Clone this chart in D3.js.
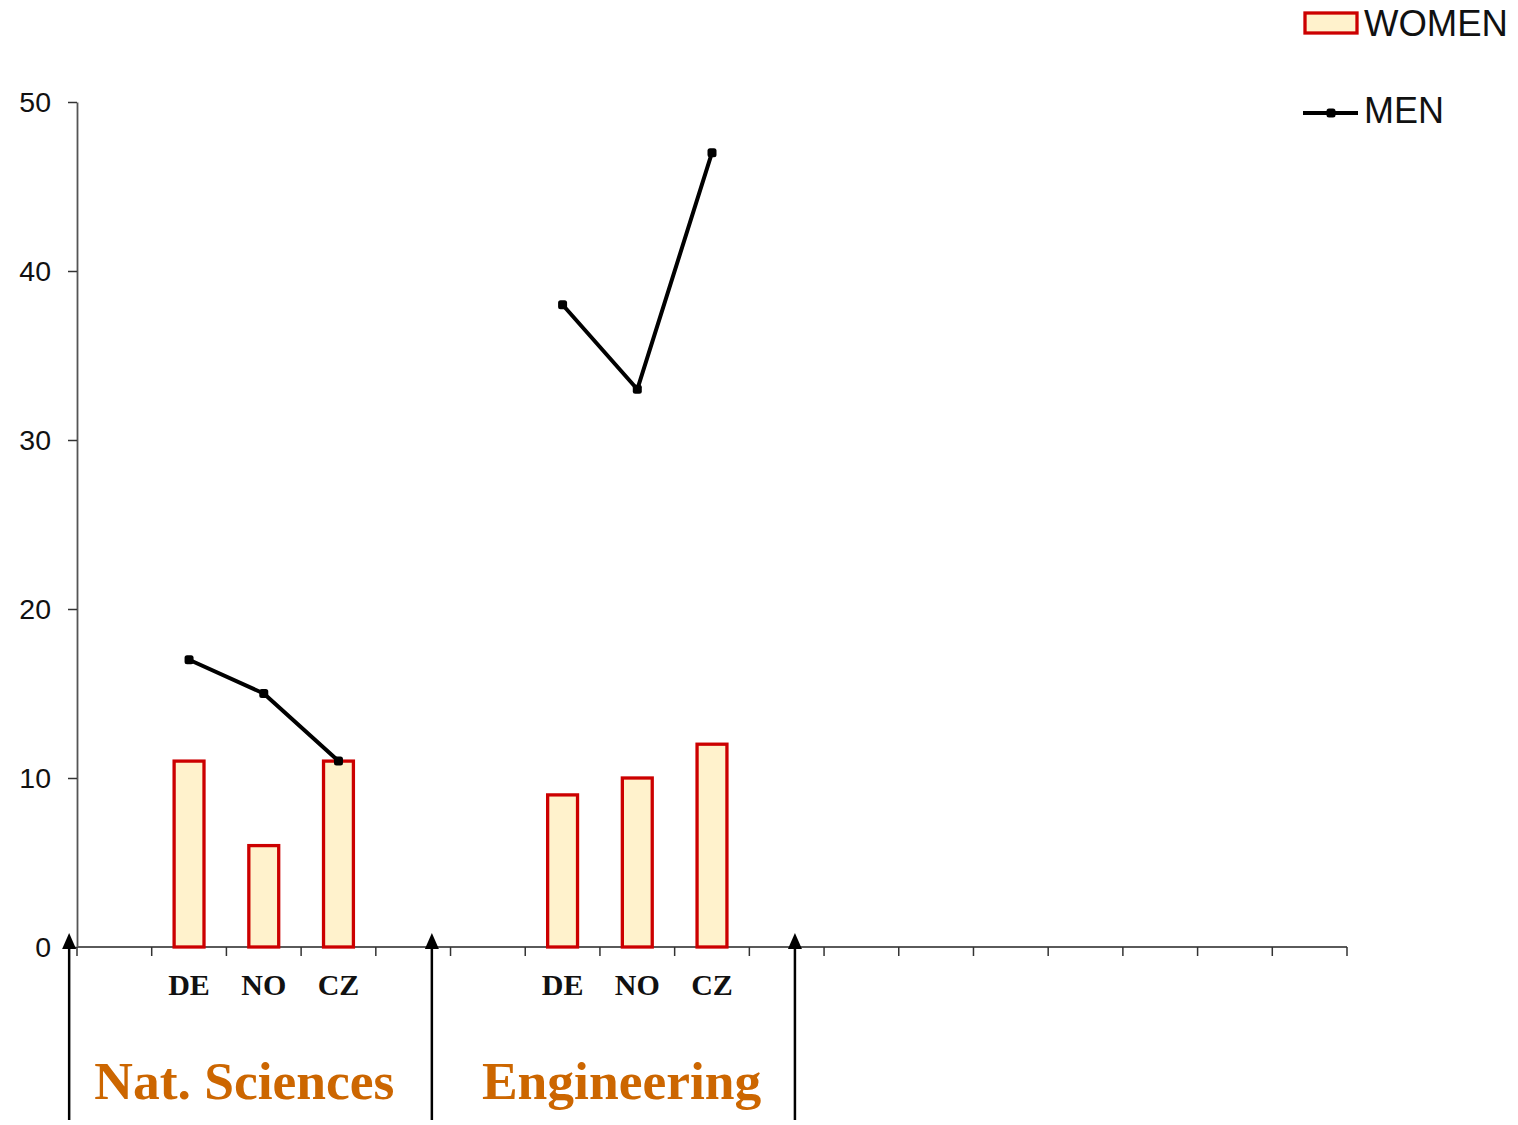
<!DOCTYPE html>
<html>
<head>
<meta charset="utf-8">
<script src="https://cdn.jsdelivr.net/npm/d3@7"></script>
<style>
  html, body { margin: 0; padding: 0; background: #fff; }
  svg { display: block; }
</style>
</head>
<body>
<svg id="chart" width="1518" height="1125"></svg>
<script>
// Share of women and men by field and country (%)
const fields = ["Nat. Sciences", "Engineering"];
const countries = ["DE", "NO", "CZ"];
const women = [[11, 6, 11], [9, 10, 12]];
const men = [[17, 15, 11], [38, 33, 47]];
const yTicks = [0, 10, 20, 30, 40, 50];
const seriesNames = ["WOMEN", "MEN"];

// Category axis: 17 slots, each field group spans 5 slots with countries in slots 1-3
const slotCount = 17;
const groupSize = 5;
const slotOf = (fi, ci) => fi * groupSize + 1 + ci;
// Separator arrows and field label centres, in slot units
const dividerSlots = [-0.105, 4.75, 9.61];
const fieldLabelSlots = [2.24, 7.29];

const svg = d3.select("#chart");
const plotLeft = 77, plotRight = 1347, plotTop = 102, plotBottom = 947;

const x = d3.scaleBand().domain(d3.range(slotCount)).range([plotLeft, plotRight]).padding(0);
const xs = d3.scaleLinear().domain([0, slotCount]).range([plotLeft, plotRight]);
const y = d3.scaleLinear().domain([0, 50]).range([plotBottom, plotTop]);

// Y axis
const yAxis = svg.append("g")
  .attr("transform", `translate(${plotLeft},0)`)
  .call(d3.axisLeft(y).tickValues(yTicks).tickSize(9).tickPadding(17).tickSizeOuter(0));
yAxis.select(".domain").attr("stroke", "#555").attr("stroke-width", 1.8);
yAxis.selectAll(".tick line").attr("stroke", "#333").attr("stroke-width", 1.5);
yAxis.selectAll(".tick text")
  .attr("font-family", "'Liberation Sans', Arial, sans-serif")
  .attr("font-size", 28.5)
  .attr("fill", "#111");

// X axis with tick marks at slot boundaries
const xAxisG = svg.append("g");
xAxisG.append("line")
  .attr("x1", plotLeft).attr("x2", plotRight)
  .attr("y1", plotBottom).attr("y2", plotBottom)
  .attr("stroke", "#5a5a5a").attr("stroke-width", 2.2);
xAxisG.selectAll("line.tk")
  .data(d3.range(slotCount + 1))
  .join("line")
  .attr("class", "tk")
  .attr("x1", d => xs(d)).attr("x2", d => xs(d))
  .attr("y1", plotBottom).attr("y2", plotBottom + 9)
  .attr("stroke", "#333").attr("stroke-width", 1.5);

// Country labels
const cells = [];
fields.forEach((f, fi) => countries.forEach((c, ci) => {
  cells.push({ field: f, country: c, slot: slotOf(fi, ci), women: women[fi][ci], men: men[fi][ci] });
}));

svg.append("g").selectAll("text")
  .data(cells)
  .join("text")
  .attr("x", d => x(d.slot) + x.bandwidth() / 2)
  .attr("y", 995)
  .attr("text-anchor", "middle")
  .attr("font-family", "'Liberation Serif', 'Times New Roman', serif")
  .attr("font-weight", "bold")
  .attr("font-size", 30)
  .attr("fill", "#111")
  .text(d => d.country);

// Women bars
const barW = x.bandwidth() * 0.4;
svg.append("g").selectAll("rect")
  .data(cells)
  .join("rect")
  .attr("x", d => x(d.slot) + (x.bandwidth() - barW) / 2)
  .attr("y", d => y(d.women))
  .attr("width", barW)
  .attr("height", d => y(0) - y(d.women))
  .attr("fill", "#fff2cc")
  .attr("stroke", "#cc0000")
  .attr("stroke-width", 3.3);

// Men lines, one segment per field
const line = d3.line()
  .x(d => x(d.slot) + x.bandwidth() / 2)
  .y(d => y(d.men));
const menG = svg.append("g");
fields.forEach(f => {
  const pts = cells.filter(d => d.field === f);
  menG.append("path")
    .datum(pts)
    .attr("d", line)
    .attr("fill", "none")
    .attr("stroke", "#000")
    .attr("stroke-width", 4)
    .attr("stroke-linejoin", "round");
  menG.append("g").selectAll("rect")
    .data(pts)
    .join("rect")
    .attr("x", d => x(d.slot) + x.bandwidth() / 2 - 4.5)
    .attr("y", d => y(d.men) - 4.5)
    .attr("width", 9).attr("height", 9)
    .attr("rx", 2.5)
    .attr("fill", "#000");
});

// Field separator arrows
const arrowG = svg.append("g");
dividerSlots.forEach(s => {
  const ax = xs(s);
  arrowG.append("line")
    .attr("x1", ax).attr("x2", ax)
    .attr("y1", 1120).attr("y2", 945)
    .attr("stroke", "#000").attr("stroke-width", 2.5);
  arrowG.append("path")
    .attr("d", `M${ax},${933} L${ax - 7},${949} L${ax + 7},${949} Z`)
    .attr("fill", "#000");
});

// Field labels
svg.append("g").selectAll("text")
  .data(fields)
  .join("text")
  .attr("x", (d, i) => xs(fieldLabelSlots[i]))
  .attr("y", 1099)
  .attr("text-anchor", "middle")
  .attr("font-family", "'Liberation Serif', 'Times New Roman', serif")
  .attr("font-weight", "bold")
  .attr("font-size", 53.5)
  .attr("fill", "#cc6600")
  .text(d => d);

// Legend
const legend = svg.append("g").attr("font-family", "'Liberation Sans', Arial, sans-serif");
legend.append("rect")
  .attr("x", 1305).attr("y", 13).attr("width", 52).attr("height", 20)
  .attr("fill", "#fff2cc").attr("stroke", "#cc0000").attr("stroke-width", 3.3);
legend.append("text")
  .attr("x", 1364).attr("y", 36)
  .attr("font-size", 36.5).attr("fill", "#111")
  .text(seriesNames[0]);
legend.append("line")
  .attr("x1", 1303).attr("x2", 1358).attr("y1", 113).attr("y2", 113)
  .attr("stroke", "#000").attr("stroke-width", 4);
legend.append("rect")
  .attr("x", 1326.5).attr("y", 108.5).attr("width", 9).attr("height", 9)
  .attr("rx", 2.5).attr("fill", "#000");
legend.append("text")
  .attr("x", 1364).attr("y", 123)
  .attr("font-size", 36).attr("fill", "#111")
  .text(seriesNames[1]);
</script>
</body>
</html>
